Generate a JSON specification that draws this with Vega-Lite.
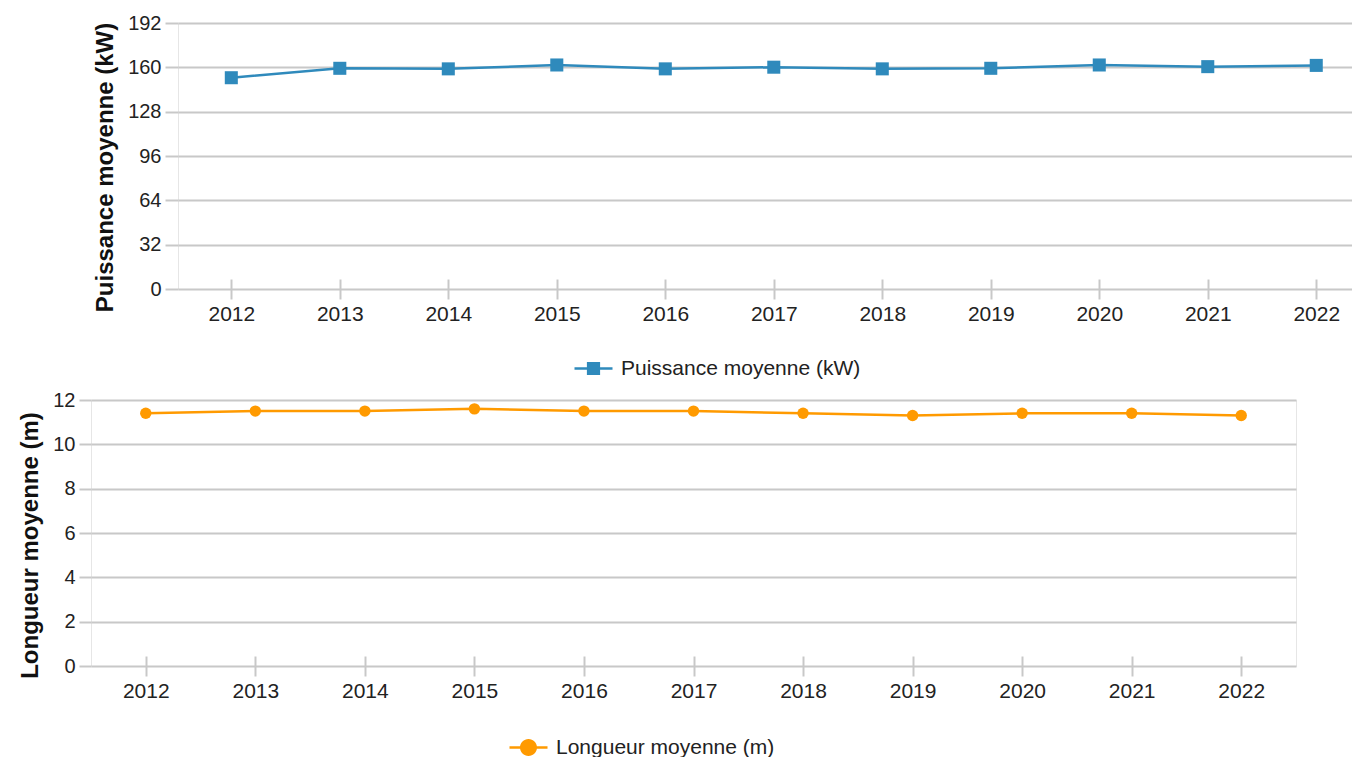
{
  "$schema": "https://vega.github.io/schema/vega-lite/v6.json",
  "padding": {"left": 18, "top": 12, "right": 0, "bottom": 0},
  "spacing": 10,
  "data": {
    "values": [
      {"annee": "2012", "puissance": 152.5, "longueur": 11.4},
      {"annee": "2013", "puissance": 159.3, "longueur": 11.5},
      {"annee": "2014", "puissance": 158.9, "longueur": 11.5},
      {"annee": "2015", "puissance": 161.7, "longueur": 11.6},
      {"annee": "2016", "puissance": 158.9, "longueur": 11.5},
      {"annee": "2017", "puissance": 160.1, "longueur": 11.5},
      {"annee": "2018", "puissance": 158.9, "longueur": 11.4},
      {"annee": "2019", "puissance": 159.3, "longueur": 11.3},
      {"annee": "2020", "puissance": 161.7, "longueur": 11.4},
      {"annee": "2021", "puissance": 160.5, "longueur": 11.4},
      {"annee": "2022", "puissance": 161.4, "longueur": 11.3}
    ]
  },
  "vconcat": [
    {
      "spacing": 0,
      "hconcat": [
        {
          "width": 2,
          "height": 10,
          "data": {"values": []},
          "mark": {"type": "point"},
          "view": {"stroke": null}
        },
        {
          "width": 1175,
          "height": 266,
          "encoding": {
            "x": {
              "field": "annee",
              "type": "ordinal",
              "scale": {"type": "point", "padding": 0.415, "align": 0.592},
              "axis": {"title": null, "labelAngle": 0, "grid": false, "tickSize": 20, "offset": -10, "labelPadding": 4, "labelFontSize": 21}
            },
            "y": {
              "field": "puissance",
              "type": "quantitative",
              "scale": {"domain": [0, 192]},
              "axis": {"values": [0, 32, 64, 96, 128, 160, 192], "title": "Puissance moyenne (kW)", "tickSize": 13, "labelPadding": 4, "titlePadding": 10, "titleY": 144}
            }
          },
          "layer": [
            {"mark": {"type": "line", "color": "#2F8ABC", "strokeWidth": 2.5}},
            {
              "mark": {"type": "point", "shape": "square", "filled": true, "size": 170, "opacity": 1},
              "encoding": {
                "color": {
                  "datum": "Puissance moyenne (kW)",
                  "scale": {"range": ["#2F8ABC"]},
                  "legend": {
                    "orient": "none", "legendX": 492, "legendY": 335, "title": null, "padding": 0,
                    "symbolType": "M-1.9,-0.125H1.9V0.125H-1.9ZM-0.66,-0.66H0.66V0.66H-0.66Z",
                    "symbolSize": 400, "labelOffset": 17, "labelLimit": 0,
                    "symbolStrokeWidth": 0, "symbolOpacity": 1
                  }
                }
              }
            }
          ]
        }
      ]
    },
    {
      "width": 1205,
      "height": 266,
      "encoding": {
        "x": {
          "field": "annee",
          "type": "ordinal",
          "scale": {"type": "point", "padding": 0.5},
          "axis": {"title": null, "labelAngle": 0, "grid": false, "tickSize": 20, "offset": -10, "labelPadding": 4, "labelFontSize": 21}
        },
        "y": {
          "field": "longueur",
          "type": "quantitative",
          "scale": {"domain": [0, 12]},
          "axis": {"values": [0, 2, 4, 6, 8, 10, 12], "title": "Longueur moyenne (m)", "tickSize": 12, "labelPadding": 4, "titlePadding": 10, "titleY": 145}
        }
      },
      "layer": [
        {"mark": {"type": "line", "color": "#FF9A00", "strokeWidth": 2.5}},
        {
          "mark": {"type": "point", "shape": "circle", "filled": true, "size": 130, "opacity": 1},
          "encoding": {
            "color": {
              "datum": "Longueur moyenne (m)",
              "scale": {"range": ["#FF9A00"]},
              "legend": {
                "orient": "none", "legendX": 427, "legendY": 337, "title": null, "padding": 0,
                "symbolType": "M-1.9,-0.125H1.9V0.125H-1.9ZM0.85,0A0.85,0.85 0 1,1 -0.85,0A0.85,0.85 0 1,1 0.85,0Z",
                "symbolSize": 400, "labelOffset": 17, "labelLimit": 0,
                "symbolStrokeWidth": 0, "symbolOpacity": 1
              }
            }
          }
        }
      ]
    }
  ],
  "resolve": {"scale": {"color": "independent"}, "legend": {"color": "independent"}},
  "config": {
    "font": "Liberation Sans",
    "view": {"stroke": "#e6e6e6", "strokeWidth": 1},
    "axis": {
      "labelFontSize": 20, "labelColor": "#222222", "labelFont": "Liberation Sans",
      "titleFontSize": 24, "titleFontWeight": "bold", "titleColor": "#111111", "titleFont": "Liberation Sans",
      "gridColor": "#c8c8c8", "gridWidth": 2, "tickColor": "#c8c8c8", "tickWidth": 2, "domain": false
    },
    "legend": {"labelFontSize": 21, "labelColor": "#222222", "labelFont": "Liberation Sans"}
  }
}
